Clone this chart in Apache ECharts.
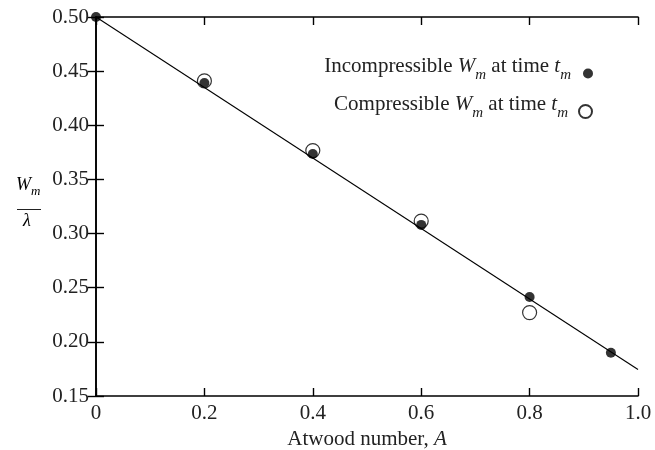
<!DOCTYPE html>
<html>
<head>
<meta charset="utf-8">
<script src="https://cdn.jsdelivr.net/npm/echarts@6/dist/echarts.min.js"></script>
<style>
html,body{margin:0;padding:0;background:#fff;}
#c{width:655px;height:450px;}
</style>
</head>
<body>
<div id="c"></div>
<script>
// Data
const incompX = [0, 0.2, 0.4, 0.6, 0.8, 0.95];
const incompY = [0.500, 0.439, 0.3735, 0.308, 0.2415, 0.190];
const compX = [0.2, 0.4, 0.6, 0.8];
const compY = [0.441, 0.3766, 0.3115, 0.227];
const fitX = [0, 1.0];
const fitY = [0.500, 0.1744];
const xTicks = [0, 0.2, 0.4, 0.6, 0.8, 1.0];
const yTicks = [0.15, 0.20, 0.25, 0.30, 0.35, 0.40, 0.45, 0.50];
const seriesNames = ['Incompressible', 'Compressible'];

const FONT = '"Liberation Serif", "DejaVu Serif", serif';
const TXT = '#222';

function pairs(xs, ys) { return xs.map((x, i) => [x, ys[i]]); }

const rich = {
  n: { fontFamily: FONT, fontSize: 21, color: TXT, lineHeight: 26 },
  i: { fontFamily: FONT, fontSize: 21, color: TXT, fontStyle: 'italic', lineHeight: 26 },
  s: { fontFamily: FONT, fontSize: 15, color: TXT, fontStyle: 'italic', lineHeight: 32, verticalAlign: 'bottom' }
};
const richY = {
  i: { fontFamily: FONT, fontSize: 18, color: TXT, fontStyle: 'italic', lineHeight: 20 },
  s: { fontFamily: FONT, fontSize: 13, color: TXT, fontStyle: 'italic', lineHeight: 26, verticalAlign: 'bottom' }
};
const legendText = {
  Incompressible: '{n|Incompressible }{i|W}{s|m}{n| at time }{i|t}{s|m}',
  Compressible: '{n|Compressible }{i|W}{s|m}{n| at time }{i|t}{s|m}'
};

const axisLine = { show: true, lineStyle: { color: '#000', width: 1.6 } };
const tick = { show: true, inside: true, length: 8, lineStyle: { color: '#000', width: 1.4 } };

const chart = echarts.init(document.getElementById('c'), null, { renderer: 'canvas' });
chart.setOption({
  animation: false,
  backgroundColor: '#fff',
  grid: { left: 96, right: 17, top: 17, bottom: 54, containLabel: false, outerBoundsMode: 'none' },
  xAxis: [
    {
      type: 'value', min: xTicks[0], max: xTicks[xTicks.length - 1], interval: 0.2,
      position: 'bottom',
      axisLine: axisLine, axisTick: tick, splitLine: { show: false },
      axisLabel: {
        fontFamily: FONT, fontSize: 21, color: TXT, margin: 7,
        formatter: v => (Math.abs(v) < 1e-9 ? '0' : v.toFixed(1))
      },
      name: '{n|Atwood number, }{i|A}',
      nameLocation: 'middle', nameGap: 28,
      nameTextStyle: { rich: rich }
    },
    {
      type: 'value', min: xTicks[0], max: xTicks[xTicks.length - 1], interval: 0.2,
      position: 'top',
      axisLine: axisLine, axisTick: tick, splitLine: { show: false },
      axisLabel: { show: false }
    }
  ],
  yAxis: [
    {
      type: 'value', min: yTicks[0], max: yTicks[yTicks.length - 1], interval: 0.05,
      position: 'left',
      axisLine: axisLine, axisTick: tick, splitLine: { show: false },
      axisLabel: {
        fontFamily: FONT, fontSize: 21, color: TXT, margin: 7,
        formatter: v => v.toFixed(2)
      }
    },
    {
      type: 'value', min: yTicks[0], max: yTicks[yTicks.length - 1], interval: 0.05,
      position: 'right',
      axisLine: axisLine, axisTick: tick, splitLine: { show: false },
      axisLabel: { show: false }
    }
  ],
  legend: [
    {
      data: [{ name: seriesNames[0], icon: 'circle' }],
      orient: 'vertical', align: 'right', padding: 0,
      right: 62, top: 56,
      itemWidth: 10, itemHeight: 10, itemGap: 10,
      formatter: n => legendText[n],
      textStyle: { rich: rich, padding: [0, 7, 14, 0] },
      selectedMode: false
    },
    {
      data: [{ name: seriesNames[1], icon: 'circle' }],
      orient: 'vertical', align: 'right', padding: 0,
      right: 62, top: 94,
      itemWidth: 13, itemHeight: 13, itemGap: 10,
      formatter: n => legendText[n],
      textStyle: { rich: rich, padding: [0, 6, 14, 0] },
      selectedMode: false
    }
  ],
  graphic: [
    {
      type: 'text', left: 16, top: 176,
      style: { text: '{i|W}{s|m}', rich: richY }
    },
    {
      type: 'line', shape: { x1: 17, y1: 209.5, x2: 41, y2: 209.5 },
      style: { stroke: '#222', lineWidth: 1 }
    },
    {
      type: 'text', left: 23, top: 212,
      style: { text: '{i|λ}', rich: richY }
    }
  ],
  series: [
    {
      name: 'fit', type: 'line', data: pairs(fitX, fitY),
      showSymbol: false, symbol: 'none',
      lineStyle: { color: '#000', width: 1.1 },
      z: 2, silent: true
    },
    {
      name: seriesNames[1], type: 'scatter', data: pairs(compX, compY),
      symbol: 'circle', symbolSize: 14,
      itemStyle: { color: 'rgba(255,255,255,0)', borderColor: '#000', borderWidth: 1.2 },
      z: 3, clip: false
    },
    {
      name: seriesNames[0], type: 'scatter', data: pairs(incompX, incompY),
      symbol: 'circle', symbolSize: 10,
      itemStyle: { color: '#000' },
      z: 4, clip: false
    }
  ]
});
</script>
</body>
</html>
